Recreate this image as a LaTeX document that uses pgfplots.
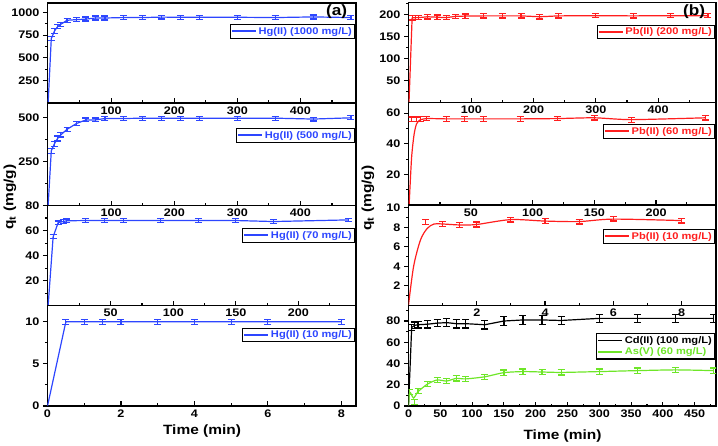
\documentclass[border=0pt]{standalone}
\usepackage{fontspec}
\setmainfont{Liberation Sans}[FakeStretch=1.15]
\usepackage{pgfplots}
\pgfplotsset{compat=1.18}
\definecolor{hgblue}{RGB}{45,70,255}
\definecolor{pbred}{RGB}{255,30,30}
\definecolor{asgreen}{RGB}{110,230,40}

\pgfplotsset{
  panel/.style={
    scale only axis, anchor=south west,
    axis line style={line width=1.2bp},
    every tick/.style={black, line width=1.1bp},
    major tick length=4.5bp, minor tick length=2.5bp,
    xtick align=inside, ytick align=outside, tick pos=left,
    tick label style={font=\bfseries\fontsize{11}{12}\selectfont},
    /pgf/number format/assume math mode=true,
    /pgf/number format/1000 sep={},
    legend style={at={(1,1)}, anchor=north east, xshift=-1bp, draw=black,
      line width=1.1bp, inner sep=0.6pt, row sep=-1pt,
      font=\bfseries\fontsize{9.7}{10}\selectfont},
    legend cell align=left,
    legend image code/.code={\draw[##1, line width=1.6bp] (0bp,0.2bp) -- (24bp,0.2bp);},
  },
  ebar/.style={forget plot, draw=none, mark=none,
    error bars/.cd, y dir=both, y explicit,
    error bar style={draw=#1, line width=1.2bp},
    error mark options={rotate=90, draw=#1, line width=1.2bp, mark size=3.5bp}},
}

\begin{document}
\begin{tikzpicture}
\useasboundingbox (0,0) rectangle (718bp,446bp);

% ---- left column: Hg(II)
\begin{axis}[panel, at={(47.5bp,343bp)}, width=308.5bp, height=100bp,
  xmin=-1, xmax=488, ymin=0, ymax=1106,
  xtick={100,200,300,400}, minor xtick={50,150,250,350,450},
  ytick={250,500,750,1000}, minor ytick={125,375,625,875},
  legend style={yshift=-21bp}]
\addplot[hgblue, line width=1.2bp] coordinates {(0,0)(5,712)(10,795)(15,845)(20,870)(30,915)(45,922)(60,928)(75,940)(90,940)(120,945)(150,945)(180,950)(210,948)(240,948)(300,948)(360,945)(420,952)(480,945)};
\addlegendentry{\textcolor{hgblue}{Hg(II) (1000 mg/L)}}
\addplot[ebar=hgblue] coordinates {(5,712)+-(0,25)(10,795)+-(0,25)(15,845)+-(0,25)(20,870)+-(0,22)(30,915)+-(0,22)(45,922)+-(0,22)(60,928)+-(0,22)(75,940)+-(0,22)(90,940)+-(0,22)(120,945)+-(0,22)(150,945)+-(0,22)(180,950)+-(0,22)(210,948)+-(0,22)(240,948)+-(0,22)(300,948)+-(0,22)(360,945)+-(0,22)(420,952)+-(0,22)(480,945)+-(0,22)};
\end{axis}

\begin{axis}[panel, at={(47.5bp,240.5bp)}, width=308.5bp, height=102.5bp,
  xmin=-1, xmax=488, ymin=0, ymax=581,
  xtick={100,200,300,400}, minor xtick={50,150,250,350,450},
  ytick={250,500}, minor ytick={125,375},
  legend style={yshift=-25bp}]
\addplot[hgblue, line width=1.2bp] coordinates {(0,0)(5,310)(10,350)(15,380)(20,400)(30,432)(45,465)(60,485)(75,485)(90,493)(120,493)(150,495)(180,495)(210,495)(240,495)(300,495)(360,495)(420,490)(480,497)};
\addlegendentry{\textcolor{hgblue}{Hg(II) (500 mg/L)}}
\addplot[ebar=hgblue] coordinates {(5,310)+-(0,14)(10,350)+-(0,14)(15,380)+-(0,14)(20,400)+-(0,12)(30,432)+-(0,12)(45,465)+-(0,12)(60,485)+-(0,11)(75,485)+-(0,11)(90,493)+-(0,11)(120,493)+-(0,11)(150,495)+-(0,11)(180,495)+-(0,11)(210,495)+-(0,11)(240,495)+-(0,11)(300,495)+-(0,11)(360,495)+-(0,11)(420,490)+-(0,11)(480,497)+-(0,11)};
\end{axis}

\begin{axis}[panel, at={(47.5bp,140.3bp)}, width=308.5bp, height=100.2bp,
  xmin=-0.5, xmax=246, ymin=0, ymax=80,
  xtick={50,100,150,200}, minor xtick={25,75,125,175,225},
  ytick={20,40,60,80}, minor ytick={10,30,50,70},
  legend style={yshift=-22.5bp}]
\addplot[hgblue, line width=1.2bp] coordinates {(0,0)(4,55)(8,66.3)(12,67.2)(15,67.8)(30,68)(45,68)(60,68)(90,68)(120,68)(150,68)(180,67.2)(240,68.5)};
\addlegendentry{\textcolor{hgblue}{Hg(II) (70 mg/L)}}
\addplot[ebar=hgblue] coordinates {(4,55)+-(0,1.6)(8,66.3)+-(0,1.4)(12,67.2)+-(0,1.4)(15,67.8)+-(0,1.4)(30,68)+-(0,1.4)(45,68)+-(0,1.4)(60,68)+-(0,1.4)(90,68)+-(0,1.4)(120,68)+-(0,1.4)(150,68)+-(0,1.4)(180,67.2)+-(0,1.4)(240,68.5)+-(0,1.4)};
\end{axis}

\begin{axis}[panel, at={(47.5bp,40bp)}, width=308.5bp, height=100.3bp,
  xmin=0, xmax=8.4, ymin=0, ymax=11.9,
  xtick={0,2,4,6,8}, minor xtick={1,3,5,7},
  ytick={0,5,10}, minor ytick={2.5,7.5},
  legend style={yshift=-22bp}]
\addplot[hgblue, line width=1.2bp] coordinates {(0,0)(0.5,10)(1,10)(1.5,10)(2,10)(3,10)(4,10)(5,10)(6,10)(8,10)};
\addlegendentry{\textcolor{hgblue}{Hg(II) (10 mg/L)}}
\addplot[ebar=hgblue] coordinates {(0.5,10)+-(0,0.3)(1,10)+-(0,0.3)(1.5,10)+-(0,0.3)(2,10)+-(0,0.3)(3,10)+-(0,0.3)(4,10)+-(0,0.3)(5,10)+-(0,0.3)(6,10)+-(0,0.3)(8,10)+-(0,0.3)};
\end{axis}

% ---- right column: Pb(II), Cd(II), As(V)
\begin{axis}[panel, at={(408.5bp,343.5bp)}, width=307.5bp, height=99.8bp,
  xmin=-0.8, xmax=493, ymin=0, ymax=227,
  xtick={100,200,300,400}, minor xtick={50,150,250,350,450},
  ytick={50,100,150,200}, minor ytick={25,75,125,175,225},
  legend style={yshift=-22bp}]
\addplot[pbred, line width=1.2bp] coordinates {(0,0)(5,192.5)(10,193)(15,193)(30,195)(45,194)(60,193)(75,196)(90,196.5)(120,197)(150,197)(180,197)(210,195)(240,197)(300,197.5)(360,197)(420,197.5)(480,197.5)};
\addlegendentry{\textcolor{pbred}{Pb(II) (200 mg/L)}}
\addplot[ebar=pbred] coordinates {(5,192.5)+-(0,5)(10,193)+-(0,5)(15,193)+-(0,5)(30,195)+-(0,5)(45,194)+-(0,5)(60,193)+-(0,5)(75,196)+-(0,5)(90,196.5)+-(0,5)(120,197)+-(0,5)(150,197)+-(0,5)(180,197)+-(0,5)(210,195)+-(0,5)(240,197)+-(0,5)(300,197.5)+-(0,5)(360,197)+-(0,5)(420,197.5)+-(0,5)(480,197.5)+-(0,5)};
\end{axis}

\begin{axis}[panel, at={(408.5bp,241bp)}, width=307.5bp, height=102.5bp,
  xmin=-0.5, xmax=248.6, ymin=0, ymax=67,
  xtick={50,100,150,200}, minor xtick={25,75,125,175,225},
  ytick={20,40,60}, minor ytick={10,30,50},
  legend style={yshift=-21.5bp}]
\addplot[pbred, line width=1.2bp, smooth, tension=0.4] coordinates {(0,0)(2,31)(4,46)(6,53)(9,55.7)(15,56.5)(30,56.3)(45,56.3)(60,56.3)(90,56.3)(120,56.5)(150,57)(180,55.8)(240,57)};
\addlegendentry{\textcolor{pbred}{Pb(II) (60 mg/L)}}
\addplot[ebar=pbred] coordinates {(2,56)+-(0,1.5)(6,56)+-(0,1.5)(9,56.3)+-(0,1.5)(14,56.5)+-(0,1.5)(30,56.3)+-(0,1.5)(45,56.3)+-(0,1.5)(60,56.3)+-(0,1.5)(90,56.3)+-(0,1.5)(120,56.5)+-(0,1.5)(150,57)+-(0,1.5)(180,55.6)+-(0,1.5)(240,57)+-(0,1.5)};
\end{axis}

\begin{axis}[panel, at={(408.5bp,140.7bp)}, width=307.5bp, height=100.3bp,
  xmin=0, xmax=9.01, ymin=0, ymax=10.3,
  xtick={2,4,6,8}, minor xtick={1,3,5,7},
  ytick={2,4,6,8,10}, minor ytick={1,3,5,7,9},
  legend style={yshift=-24bp}]
\addplot[pbred, line width=1.2bp, smooth, tension=0.5] coordinates {(0,0)(0.15,4)(0.35,6.7)(0.55,7.9)(0.75,8.35)(1,8.35)(1.5,8.25)(2,8.3)(3,8.8)(4,8.65)(5,8.6)(6,8.85)(8,8.7)};
\addlegendentry{\textcolor{pbred}{Pb(II) (10 mg/L)}}
\addplot[ebar=pbred] coordinates {(0.5,8.55)+-(0,0.25)(1,8.35)+-(0,0.25)(1.5,8.25)+-(0,0.25)(2,8.3)+-(0,0.25)(3,8.8)+-(0,0.25)(4,8.65)+-(0,0.25)(5,8.6)+-(0,0.25)(6,8.9)+-(0,0.25)(8,8.7)+-(0,0.25)};
\end{axis}

\begin{axis}[panel, at={(408.5bp,40bp)}, width=307.5bp, height=100.7bp,
  xmin=0, xmax=483.5, ymin=0, ymax=94.8,
  xtick={0,50,...,450}, minor xtick={25,75,...,475},
  ytick={0,20,40,60,80}, minor ytick={10,30,50,70,90},
  legend style={yshift=-28bp}]
\addplot[black, line width=1.2bp] coordinates {(0,0)(5,74)(10,76)(15,76.5)(30,77)(45,78)(60,78.5)(75,77.5)(90,77.5)(120,76.5)(150,80)(180,81)(210,81)(240,80.5)(300,82.5)(360,82.5)(420,82.5)(480,82.5)};
\addlegendentry{\textcolor{black}{Cd(II) (100 mg/L)}}
\addplot[asgreen, line width=1.2bp, smooth, tension=0.4] coordinates {(0,0)(2,13)(8,7.5)(15,13.5)(30,20.7)(45,24.5)(60,23.5)(75,26)(90,25.5)(120,27.5)(150,31.4)(180,32.4)(210,32)(240,31.6)(300,32.4)(360,33.3)(420,34)(480,33.3)};
\addlegendentry{\textcolor{asgreen}{As(V) (60 mg/L)}}
\addplot[ebar=black] coordinates {(5,74)+-(0,3)(10,76)+-(0,3)(15,76.5)+-(0,3)(30,77)+-(0,3.5)(45,78)+-(0,3.5)(60,78.5)+-(0,4)(75,77.5)+-(0,4)(90,77.5)+-(0,4)(120,76.5)+-(0,4)(150,80)+-(0,4)(180,81)+-(0,4)(210,81)+-(0,4)(240,80.5)+-(0,4)(300,82.5)+-(0,4)(360,82.5)+-(0,4)(420,82.5)+-(0,4)(480,82.5)+-(0,4)};
\addplot[ebar=asgreen] coordinates {(2,13)+-(0,2.4)(10,4)+-(0,2.4)(15,14)+-(0,2.4)(30,20.7)+-(0,2.4)(45,24.5)+-(0,2.4)(60,23.5)+-(0,2.4)(75,26)+-(0,2.4)(90,25.5)+-(0,2.4)(120,27.5)+-(0,2.4)(150,31.4)+-(0,2.4)(180,32.4)+-(0,2.4)(210,32)+-(0,2.4)(240,31.6)+-(0,2.4)(300,32.4)+-(0,2.4)(360,33.3)+-(0,2.4)(420,34)+-(0,2.4)(480,33.3)+-(0,2.4)};
\end{axis}

% ---- titles and panel letters
\node[rotate=90, font=\bfseries\fontsize{13.5}{14}\selectfont] at (10bp,249bp) {q\textsubscript{t} (mg/g)};
\node[rotate=90, font=\bfseries\fontsize{13.5}{14}\selectfont] at (368bp,248bp) {q\textsubscript{t} (mg/g)};
\node[font=\bfseries\fontsize{13.5}{14}\selectfont] at (202bp,15bp) {Time (min)};
\node[font=\bfseries\fontsize{13.5}{14}\selectfont] at (562.5bp,9.5bp) {Time (min)};
\node[font=\bfseries\fontsize{15}{16}\selectfont] at (336.7bp,434bp) {(a)};
\node[font=\bfseries\fontsize{15}{16}\selectfont] at (694bp,434bp) {(b)};
\end{tikzpicture}
\end{document}
